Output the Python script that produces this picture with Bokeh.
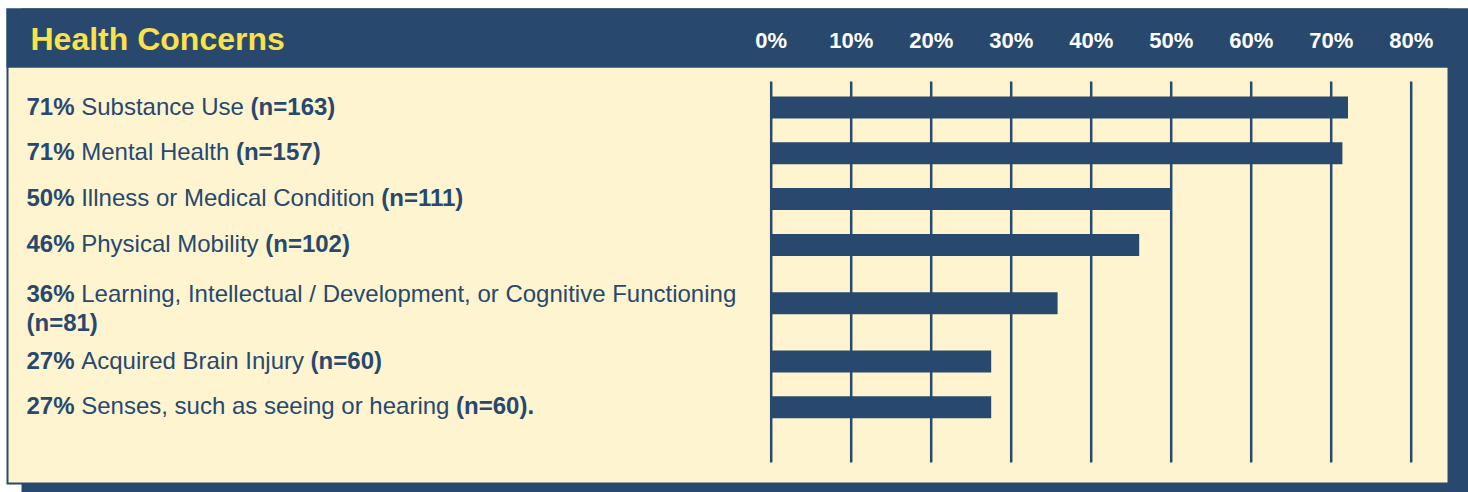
from bokeh.plotting import figure
from bokeh.models import Range1d, ColumnDataSource
from bokeh.core.properties import value
from bokeh.embed import file_html
from bokeh.resources import INLINE

# ---------------- data ----------------
title = "Health Concerns"
pct_labels = ["71%", "71%", "50%", "46%", "36%", "27%", "27%"]
categories = [
    "Substance Use",
    "Mental Health",
    "Illness or Medical Condition",
    "Physical Mobility",
    "Learning, Intellectual / Development, or Cognitive Functioning",
    "Acquired Brain Injury",
    "Senses, such as seeing or hearing",
]
n_labels = ["(n=163)", "(n=157)", "(n=111)", "(n=102)", "(n=81)", "(n=60)", "(n=60)."]
values = [72.1, 71.4, 50.0, 46.0, 35.8, 27.5, 27.5]
ticks = [0, 10, 20, 30, 40, 50, 60, 70, 80]
tick_labels = ["0%", "10%", "20%", "30%", "40%", "50%", "60%", "70%", "80%"]

# ---------------- layout / style ----------------
W, H = 1468, 492
NAVY = "#28486e"
CREAM = "#fef5d0"
YELLOW = "#fbe14a"
FONT = "Liberation Sans"
LABEL_SIZE = 24
card_left, card_top = 6, 8
header_bottom = 67
card_right = 1447
card_bottom = 482
shadow_left = 21
zero_px = 770.7
px_per_pct = 8.0
label_x = 26
label_max_right = 745
row0 = 107
row_step = 45.8
wrap_pad = 12.5
line_gap = 29
bar_h = 22
grid_top, grid_bottom = 81, 462

# Arial / Liberation Sans advance widths (per 1000 em)
REG = {" ": 278, ",": 278, ".": 278, "/": 278, "(": 333, ")": 333, "=": 584, "%": 889, "-": 333}
REG.update({d: 556 for d in "0123456789"})
REG.update(dict(zip("ABCDEFGHIJKLMNOPQRSTUVWXYZ",
                    [667, 667, 722, 722, 667, 611, 778, 722, 278, 500, 667, 556, 833,
                     722, 778, 667, 778, 722, 667, 611, 722, 667, 944, 667, 667, 611])))
REG.update(dict(zip("abcdefghijklmnopqrstuvwxyz",
                    [556, 556, 500, 556, 556, 278, 556, 556, 222, 222, 500, 222, 833,
                     556, 556, 556, 556, 333, 500, 278, 556, 500, 722, 500, 500, 500])))
BOLD = {" ": 278, "%": 889, "(": 333, ")": 333, ".": 278, "=": 584, "n": 611}
BOLD.update({d: 556 for d in "0123456789"})


def tw(s, table, size=LABEL_SIZE):
    return sum(table.get(c, 556) for c in s) * size / 1000.0


# compute label segments and row positions
sp = tw(" ", REG)
centers = []
pct_x, pct_y = [], []
cat_x, cat_y = [], []
n_x, n_y = [], []
y = row0
for pl, cat, nl in zip(pct_labels, categories, n_labels):
    w_pct = tw(pl, BOLD)
    w_cat = tw(cat, REG)
    w_n = tw(nl, BOLD)
    wrap = label_x + w_pct + sp + w_cat + sp + w_n > label_max_right
    if wrap:
        y += wrap_pad
    centers.append(y)
    base = y - 9.5 if wrap else y - 1.5
    pct_x.append(label_x)
    pct_y.append(base)
    cat_x.append(label_x + w_pct + sp)
    cat_y.append(base)
    if wrap:
        n_x.append(label_x)
        n_y.append(base + line_gap)
    else:
        n_x.append(label_x + w_pct + sp + w_cat + sp)
        n_y.append(base)
    y += row_step + (wrap_pad if wrap else 0)

p = figure(width=W, height=H, x_range=Range1d(0, W), y_range=Range1d(H, 0),
           toolbar_location=None, output_backend="svg", min_border=0,
           x_axis_location=None, y_axis_location=None,
           background_fill_color="white", border_fill_color="white")
p.grid.visible = False
p.outline_line_color = None
p.extra_x_ranges = {"pct": Range1d(-zero_px / px_per_pct, (W - zero_px) / px_per_pct)}

# card, shadow and header
p.quad(left=[shadow_left], right=[W], top=[card_top], bottom=[H], fill_color=NAVY, line_color=None)
p.quad(left=[card_left], right=[card_right], top=[card_top], bottom=[card_bottom + 2],
       fill_color=NAVY, line_color=None)
p.quad(left=[card_left + 2], right=[card_right], top=[header_bottom], bottom=[card_bottom],
       fill_color=CREAM, line_color=None)
p.quad(left=[card_left], right=[W], top=[card_top], bottom=[header_bottom], fill_color=NAVY, line_color=None)

# grid lines
p.segment(x0=ticks, x1=ticks, y0=[grid_top] * len(ticks), y1=[grid_bottom] * len(ticks),
          x_range_name="pct", line_color=NAVY, line_width=2.5)

# bars
bars = ColumnDataSource(dict(y=centers, right=values, left=[0] * len(values)))
p.hbar(y="y", left="left", right="right", height=bar_h, source=bars, x_range_name="pct",
       fill_color=NAVY, line_color=None)

# tick labels
p.text(x=ticks, y=[40] * len(ticks), text=tick_labels, x_range_name="pct",
       text_align="center", text_baseline="middle", text_color="white",
       text_font=value(FONT), text_font_size=value("22px"), text_font_style="bold")

# title
p.text(x=[30], y=[38], text=[title], text_baseline="middle", text_color=YELLOW,
       text_font=value(FONT), text_font_size=value("32px"), text_font_style="bold")

# category labels
common = dict(text_baseline="alphabetic", text_color=NAVY, text_font=value(FONT),
              text_font_size=value(f"{LABEL_SIZE}px"))
p.text(x=pct_x, y=pct_y, text=pct_labels, text_font_style="bold", **common)
p.text(x=cat_x, y=cat_y, text=categories, text_font_style="normal", **common)
p.text(x=n_x, y=n_y, text=n_labels, text_font_style="bold", **common)

open("out.html", "w").write(file_html(p, INLINE))
